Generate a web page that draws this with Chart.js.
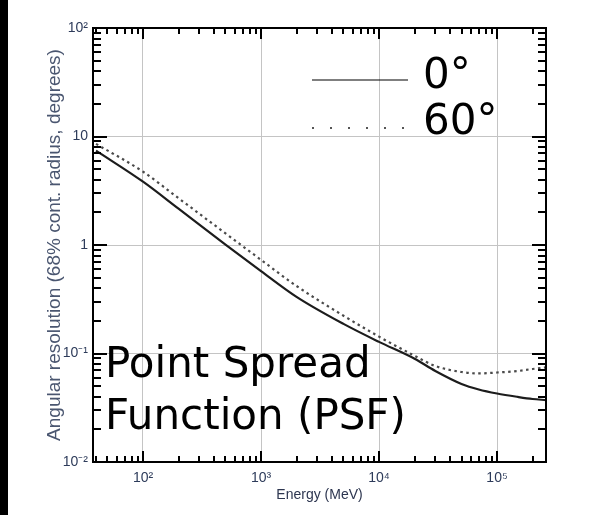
<!DOCTYPE html>
<html>
<head>
<meta charset="utf-8">
<script src="https://cdn.jsdelivr.net/npm/chart.js@4.4.1/dist/chart.umd.min.js"></script>
<style>
  html, body { margin: 0; padding: 0; background: #fff; }
  #wrap { position: relative; width: 601px; height: 515px; overflow: hidden; }
  #bar { position: absolute; left: 0; top: 0; width: 8px; height: 515px; background: #000; }
  canvas { position: absolute; left: 0; top: 0; }
</style>
</head>
<body>
<div id="wrap">
  <canvas id="psf" width="601" height="515"></canvas>
  <div id="bar"></div>
</div>
<script>
// energy in MeV, PSF 68% containment radius in degrees
const energy = [40, 100, 200, 500, 1000, 2000, 5000, 1e4, 2e4, 3e4, 5e4, 7e4, 1e5, 1.5e5, 2e5, 2.6e5];
const psf0 = [7.4, 3.83, 2.16, 1.01, 0.575, 0.333, 0.1875, 0.128, 0.0895, 0.069, 0.0524, 0.0466, 0.0428, 0.0398, 0.0381, 0.0372];
const psf60 = [8.55, 4.74, 2.70, 1.28, 0.73, 0.419, 0.223, 0.143, 0.0953, 0.0767, 0.0675, 0.0655, 0.0668, 0.069, 0.072, 0.0745];

const xTicks = [100, 1000, 10000, 100000];
const xTickLabels = ['10²', '10³', '10⁴', '10⁵'];
const yTicks = [0.01, 0.1, 1, 10, 100];
const yTickLabels = ['10⁻²', '10⁻¹', '1', '10', '10²'];

const seriesLabels = ['0°', '60°'];
const noteLines = ['Point Spread', 'Function (PSF)'];

const smallFont = '"Liberation Sans Narrow", "Liberation Sans", Arial, sans-serif';
const bigFont = '"DejaVu Sans", Verdana, sans-serif';

function toPoints(ys) {
  return energy.map((e, i) => ({x: e, y: ys[i]}));
}

function logMarks(min, max) {
  const out = [];
  for (let d = Math.floor(Math.log10(min)); d <= Math.ceil(Math.log10(max)); d++) {
    for (let m = 1; m < 10; m++) {
      const v = m * Math.pow(10, d);
      if (v >= min * 0.999 && v <= max * 1.001) out.push({v: v, major: m === 1});
    }
  }
  return out;
}

// box, inward ticks on all four sides, legend and the note
const framePlugin = {
  id: 'frame',
  afterDraw(chart) {
    const {ctx, chartArea: a, scales: {x, y}} = chart;
    ctx.save();
    ctx.strokeStyle = '#000';
    ctx.lineWidth = 2;
    ctx.beginPath();
    logMarks(x.min, x.max).forEach(t => {
      const px = Math.round(x.getPixelForValue(t.v));
      const len = t.major ? 11 : 6;
      ctx.moveTo(px, a.bottom); ctx.lineTo(px, a.bottom - len);
      ctx.moveTo(px, a.top); ctx.lineTo(px, a.top + len);
    });
    logMarks(y.min, y.max).forEach(t => {
      const py = Math.round(y.getPixelForValue(t.v));
      const len = t.major ? 14 : 8;
      ctx.moveTo(a.left, py); ctx.lineTo(a.left + len, py);
      ctx.moveTo(a.right, py); ctx.lineTo(a.right - len, py);
    });
    ctx.stroke();
    ctx.strokeRect(a.left, a.top, a.right - a.left, a.bottom - a.top);

    // legend
    ctx.font = '42px ' + bigFont;
    ctx.fillStyle = '#000';
    ctx.textBaseline = 'alphabetic';
    const rows = [{lineY: 80, textY: 88}, {lineY: 128, textY: 134}];
    chart.data.datasets.forEach((ds, i) => {
      ctx.beginPath();
      ctx.strokeStyle = i === 0 ? '#000' : '#555';
      ctx.lineWidth = i === 0 ? 1.2 : 2;
      ctx.setLineDash(i === 0 ? [] : [2, 16]);
      ctx.moveTo(312, rows[i].lineY);
      ctx.lineTo(408, rows[i].lineY);
      ctx.stroke();
      ctx.setLineDash([]);
      ctx.fillText(ds.label, 423, rows[i].textY);
    });

    // note
    ctx.fillText(noteLines[0], 105, 377);
    ctx.fillText(noteLines[1], 105, 429);
    ctx.restore();
  }
};

new Chart(document.getElementById('psf'), {
  type: 'line',
  data: {
    datasets: [
      {
        label: seriesLabels[0],
        data: toPoints(psf0),
        borderColor: '#1c1c1c',
        borderWidth: 2.2,
        pointRadius: 0,
        cubicInterpolationMode: 'monotone'
      },
      {
        label: seriesLabels[1],
        data: toPoints(psf60),
        borderColor: '#4a4a4a',
        borderWidth: 2.2,
        borderDash: [2.5, 3.5],
        pointRadius: 0,
        cubicInterpolationMode: 'monotone'
      }
    ]
  },
  options: {
    responsive: false,
    animation: false,
    layout: {padding: {left: 0, top: 28, right: 55, bottom: 0}},
    plugins: {
      legend: {display: false},
      tooltip: {enabled: false}
    },
    scales: {
      x: {
        type: 'logarithmic',
        min: 37.7,
        max: 260000,
        afterFit: scale => { scale.height = 53; },
        afterBuildTicks: scale => { scale.ticks = xTicks.map(v => ({value: v})); },
        grid: {color: '#c4c4c4', lineWidth: 1, drawTicks: false},
        border: {display: false},
        ticks: {
          padding: 8,
          maxRotation: 0,
          autoSkip: false,
          color: '#2d3b5a',
          font: {family: smallFont, size: 14},
          callback: (value, index) => xTickLabels[index]
        },
        title: {
          display: true,
          text: 'Energy (MeV)',
          color: '#2d3650',
          font: {family: smallFont, size: 14},
          padding: {top: 0, bottom: 11.6}
        }
      },
      y: {
        type: 'logarithmic',
        min: 0.01,
        max: 100,
        afterFit: scale => { scale.width = 93; },
        afterBuildTicks: scale => { scale.ticks = yTicks.map(v => ({value: v})); },
        grid: {color: '#c4c4c4', lineWidth: 1, drawTicks: false},
        border: {display: false},
        ticks: {
          padding: 5,
          autoSkip: false,
          color: '#2d3b5a',
          font: {family: smallFont, size: 14},
          callback: (value, index) => yTickLabels[index]
        },
        title: {
          display: true,
          text: 'Angular resolution (68% cont. radius, degrees)',
          color: '#4a5670',
          font: {family: smallFont, size: 19},
          padding: {top: 43.6, bottom: 0}
        }
      }
    }
  },
  plugins: [framePlugin]
});
</script>
</body>
</html>
